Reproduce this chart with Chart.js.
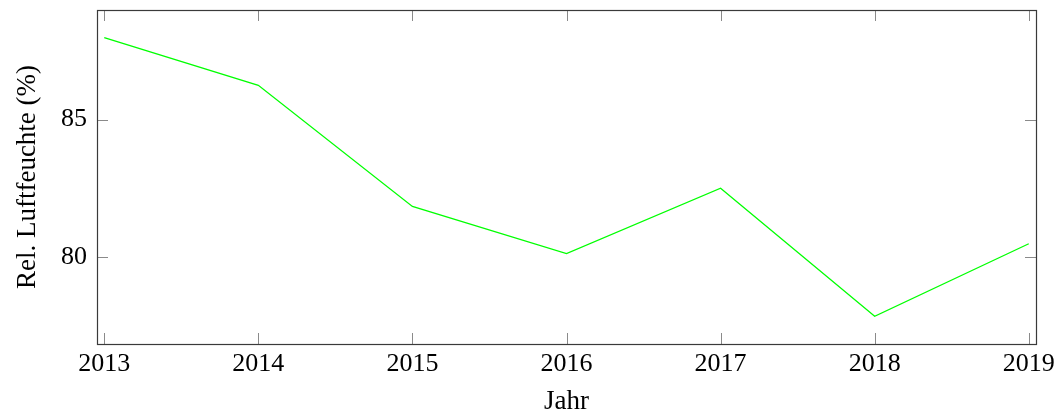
<!DOCTYPE html>
<html>
<head>
<meta charset="utf-8">
<script src="https://cdn.jsdelivr.net/npm/chart.js@4.4.1/dist/chart.umd.min.js"></script>
<style>
  html, body { margin: 0; padding: 0; background: #ffffff; }
  #wrap { width: 1060px; height: 418px; position: relative; }
</style>
</head>
<body>
<div id="wrap"><canvas id="chart" width="1060" height="418"></canvas></div>
<script>
// Relative Luftfeuchte pro Jahr
const years = [2013, 2014, 2015, 2016, 2017, 2018, 2019];
const humidity = [87.98, 86.25, 81.84, 80.12, 82.50, 77.84, 80.48];
const xTickValues = [2013, 2014, 2015, 2016, 2017, 2018, 2019];
const yTickValues = [80, 85];

const FONT = "'Liberation Serif', 'DejaVu Serif', serif";

// Frame around the plot area with inward tick marks on all four sides
const framePlugin = {
  id: 'frameTicks',
  afterDraw(chart) {
    const { ctx, chartArea: a, scales } = chart;
    const len = 11;
    ctx.save();
    ctx.lineWidth = 1;
    ctx.strokeStyle = '#8a8a8a';
    ctx.beginPath();
    scales.x.ticks.forEach(t => {
      const px = Math.round(scales.x.getPixelForValue(t.value)) + 0.5;
      ctx.moveTo(px, a.bottom); ctx.lineTo(px, a.bottom - len);
      ctx.moveTo(px, a.top); ctx.lineTo(px, a.top + len);
    });
    scales.y.ticks.forEach(t => {
      const py = Math.round(scales.y.getPixelForValue(t.value)) + 0.5;
      ctx.moveTo(a.left, py); ctx.lineTo(a.left + len, py);
      ctx.moveTo(a.right, py); ctx.lineTo(a.right - len, py);
    });
    ctx.stroke();
    ctx.strokeStyle = '#3a3a3a';
    ctx.lineWidth = 1.2;
    ctx.strokeRect(Math.round(a.left) + 0.5, Math.round(a.top) + 0.5,
                   Math.round(a.right - a.left), Math.round(a.bottom - a.top));
    ctx.restore();
  }
};

new Chart(document.getElementById('chart'), {
  type: 'line',
  data: {
    datasets: [{
      data: years.map((y, i) => ({ x: y, y: humidity[i] })),
      borderColor: '#00ff00',
      borderWidth: 1.3,
      pointRadius: 0,
      tension: 0,
      fill: false
    }]
  },
  options: {
    responsive: false,
    animation: false,
    events: [],
    layout: { padding: { left: 0, right: 24, top: 10, bottom: 0 } },
    plugins: { legend: { display: false }, tooltip: { enabled: false } },
    scales: {
      x: {
        type: 'linear',
        min: 2012.953,
        max: 2019.047,
        afterBuildTicks(scale) { scale.ticks = xTickValues.map(v => ({ value: v })); },
        afterFit(scale) {
          scale.height = 74;
          scale.paddingLeft = 0;
          scale.paddingRight = 0;
        },
        grid: { display: false, drawTicks: false },
        border: { display: false },
        ticks: {
          color: '#000',
          font: { family: FONT, size: 26 },
          padding: 5,
          maxRotation: 0,
          autoSkip: false,
          callback: v => String(v)
        },
        title: {
          display: true,
          text: 'Jahr',
          color: '#000',
          font: { family: FONT, size: 27 },
          padding: { top: 0, bottom: 0 }
        }
      },
      y: {
        type: 'linear',
        min: 76.83,
        max: 88.99,
        afterBuildTicks(scale) { scale.ticks = yTickValues.map(v => ({ value: v })); },
        afterFit(scale) {
          scale.width = 97;
          scale.paddingTop = 0;
          scale.paddingBottom = 0;
        },
        grid: { display: false, drawTicks: false },
        border: { display: false },
        ticks: {
          color: '#000',
          font: { family: FONT, size: 26 },
          padding: 10,
          callback: v => String(v)
        },
        title: {
          display: true,
          text: 'Rel. Luftfeuchte (%)',
          color: '#000',
          font: { family: FONT, size: 27 },
          padding: { top: 12, bottom: 0 }
        }
      }
    }
  },
  plugins: [framePlugin]
});
</script>
</body>
</html>
